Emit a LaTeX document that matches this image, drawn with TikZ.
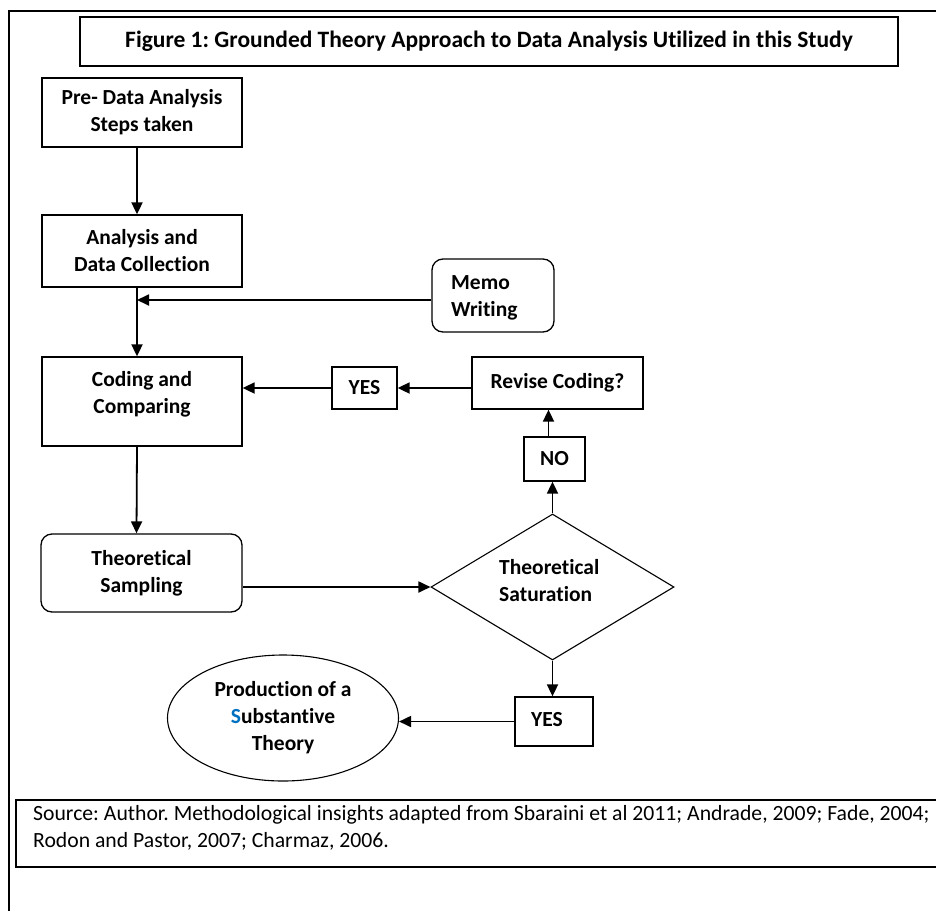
\documentclass[tikz,border=0pt]{standalone}
\usepackage{fontspec}
\setmainfont{Carlito}[Ligatures=NoCommon]
\usetikzlibrary{arrows.meta,shapes.geometric}
\definecolor{wordblue}{RGB}{0,112,192}
\frenchspacing
\tikzset{
  boxline/.style={draw=black,line width=1.3pt},
  stepbox/.style={boxline,rectangle,inner sep=0pt,align=center,font=\bfseries\fontsize{21.5}{27}\selectfont},
  roundbox/.style={stepbox,rounded corners=11pt},
  plaintext/.style={inner sep=0pt,font=\bfseries\fontsize{21.5}{27}\selectfont},
  arr/.style={line width=1.8pt,-{Triangle[length=12pt,width=11pt]}},
}
\begin{document}
\begin{tikzpicture}[x=1pt,y=-1pt]
\useasboundingbox (0,0) rectangle (936,910);
\clip (0,0) rectangle (936,910);
% outer frame
\draw[line width=1.3pt] (9,915) -- (9,11) -- (945,11);
% title
\node[stepbox,minimum width=818pt,minimum height=49pt,font=\bfseries\fontsize{23.5}{28}\selectfont] (title) at (489,41.5)
  {Figure 1: Grounded Theory Approach to Data Analysis Utilized in this Study};
% boxes
\node[stepbox,minimum width=200pt,minimum height=69pt] (pre) at (142,112.5) {Pre- Data Analysis\\Steps taken};
\node[stepbox,minimum width=200pt,minimum height=72pt] (analysis) at (142,251) {Analysis and\\Data Collection};
\node[roundbox,minimum width=122pt,minimum height=73pt] (memo) at (493,295.5) {};
\node[plaintext,anchor=west,align=left] (memotxt) at (451,298) {Memo\\Writing};
\node[stepbox,minimum width=200pt,minimum height=89pt] (coding) at (142,401.5) {};
\node[plaintext,align=center] (codingtxt) at (142,394) {Coding and\\Comparing};
\node[stepbox,minimum width=65pt,minimum height=42pt] (yesa) at (364.5,388) {YES};
\node[stepbox,minimum width=171pt,minimum height=52pt] (revise) at (557.5,383) {Revise Coding?};
\node[stepbox,minimum width=61pt,minimum height=44pt] (no) at (554.5,459) {NO};
\node[roundbox,minimum width=201pt,minimum height=78pt] (sampling) at (141.5,573) {Theoretical\\Sampling};
\node[draw=black,line width=1.1pt,diamond,inner sep=0pt,minimum width=243pt,minimum height=146pt] (sat) at (552.5,587) {};
\node[plaintext,anchor=west,align=left] (sattxt) at (499,581) {Theoretical\\Saturation};
\node[stepbox,minimum width=78pt,minimum height=49pt] (yesb) at (554,721.5) {};
\node[plaintext] (yesbtxt) at (547,720) {YES};
\node[draw=black,line width=1.1pt,ellipse,inner sep=0pt,minimum width=231pt,minimum height=126pt,align=center,font=\bfseries\fontsize{21.5}{27}\selectfont] (theory) at (283,718)
  {Production of a\\\textcolor{wordblue}{S}ubstantive\\Theory};
% source box
\draw[line width=1.3pt] (945,800) -- (16,800) -- (16,867) -- (945,867);
\node[inner sep=0pt,anchor=west,align=left,font=\fontsize{21.7}{27}\selectfont] (source) at (33,828)
  {Source: Author. Methodological insights adapted from Sbaraini et al 2011; Andrade, 2009; Fade, 2004;\\Rodon and Pastor, 2007; Charmaz, 2006.};
% connectors
\coordinate (join) at (137,300);
\draw[arr] ([xshift=-5pt]pre.south) -- ([xshift=-5pt]analysis.north);
\draw[arr] ([xshift=-5pt]analysis.south) -- ([xshift=-5pt]coding.north);
\draw[arr] (memo.west |- join) -- (join);
\draw[arr] (yesa.east -| revise.west) -- (yesa.east);
\draw[arr] (yesa.west) -- (yesa.west -| coding.east);
\draw[arr] ([xshift=-5pt]coding.south) -- ([xshift=-5pt]sampling.north);
\draw[arr] (sampling.east |- sat.west) -- (sat.west);
\draw[arr] (sat.north) -- (sat.north |- no.south);
\draw[arr] ([xshift=-6pt]no.north) -- ([xshift=-6pt]no.north |- revise.south);
\draw[arr] (sat.south) -- (sat.south |- yesb.north);
\draw[arr] (yesb.west) -- (yesb.west -| theory.east);
\end{tikzpicture}
\end{document}
